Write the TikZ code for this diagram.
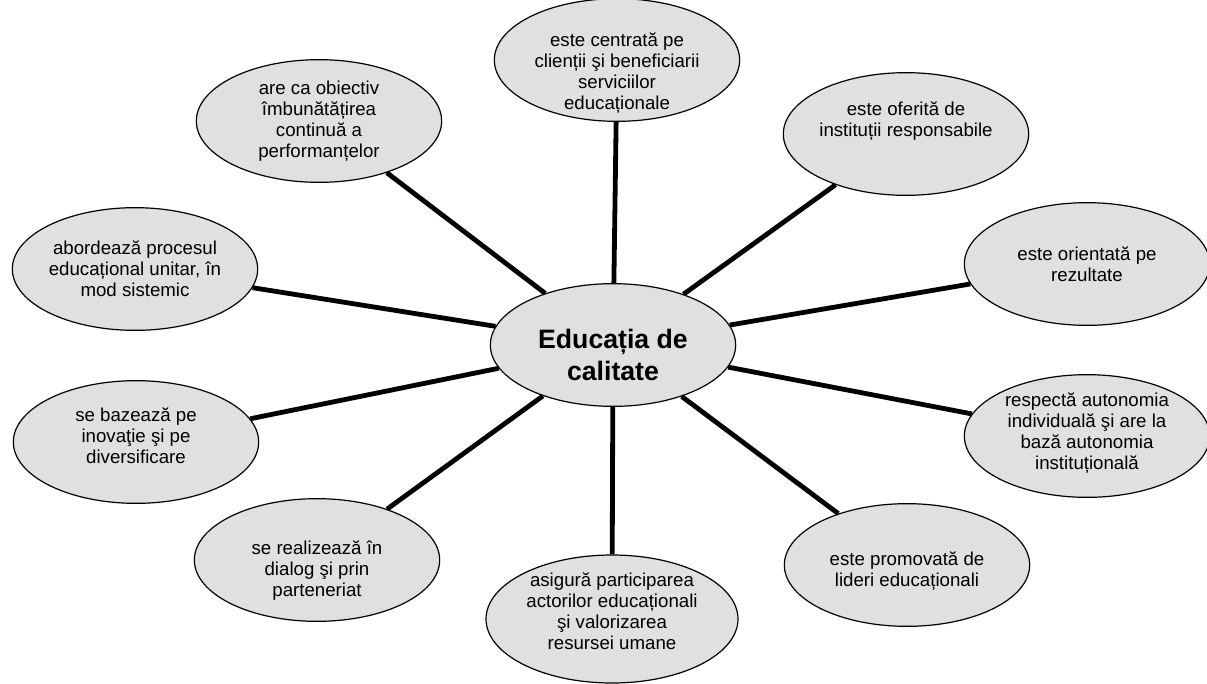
\documentclass[tikz,border=0pt]{standalone}
\usepackage{fontspec}
\setmainfont{Liberation Sans}
\usetikzlibrary{shapes.geometric}
\definecolor{bubblegray}{RGB}{224,224,224}

\begin{document}
\begin{tikzpicture}[
    x=0.75pt, y=-0.75pt,
    bubble/.style={ellipse, draw, line width=0.9pt, fill=bubblegray, inner sep=-12pt,
                   minimum width=184pt, minimum height=92pt, align=center,
                   font=\fontsize{14}{15.8}\selectfont},
    hub/.style={bubble, font=\fontsize{20}{24}\selectfont\bfseries},
    spoke/.style={line width=3.6pt}
]
    \useasboundingbox (0,0) rectangle (1207,683);
    \node[hub] (edu) at (613,345) {\mbox{}\\[5.6pt]Educația de\\calitate};
    \node[bubble] (clienti) at (617,60) {\mbox{}\\[14pt]este centrată pe\\clienții şi beneficiarii\\serviciilor\\educaționale};
    \node[bubble] (obiectiv) at (319,121) {are ca obiectiv\\îmbunătățirea\\continuă a\\performanțelor};
    \node[bubble] (oferita) at (906,134) {este oferită de\\instituții responsabile\\[6pt]};
    \node[bubble] (sistemic) at (135,269) {abordează procesul\\educațional unitar, în\\mod sistemic};
    \node[bubble] (rezultate) at (1087,264) {este orientată pe\\rezultate};
    \node[bubble] (inovatie) at (136,442) {se bazează pe\\inovaţie şi pe\\diversificare\\[-6pt]\mbox{}};
    \node[bubble] (autonomie) at (1087,436) {respectă autonomia\\individuală şi are la\\bază autonomia\\instituțională\\[-8.5pt]\mbox{}};
    \node[bubble] (dialog) at (317,560) {\mbox{}\\[10pt]se realizează în\\dialog şi prin\\parteneriat};
    \node[bubble, minimum width=189pt, minimum height=96pt] (actori) at (612,619) {asigură participarea\\actorilor educaționali\\şi valorizarea\\resursei umane\\[-4pt]\mbox{}};
    \node[bubble] (lideri) at (907,565) {\mbox{}\\[4pt]este promovată de\\lideri educaționali};
    % spokes from the hub
    \draw[spoke] (edu) -- (clienti); \draw[spoke] (edu) -- (obiectiv);
    \draw[spoke] (edu) -- (oferita); \draw[spoke] (edu) -- (sistemic);
    \draw[spoke] (edu) -- (rezultate); \draw[spoke] (edu) -- (inovatie);
    \draw[spoke] (edu) -- (autonomie); \draw[spoke] (edu) -- (dialog);
    \draw[spoke] (edu) -- (actori); \draw[spoke] (edu) -- (lideri);
\end{tikzpicture}
\end{document}
